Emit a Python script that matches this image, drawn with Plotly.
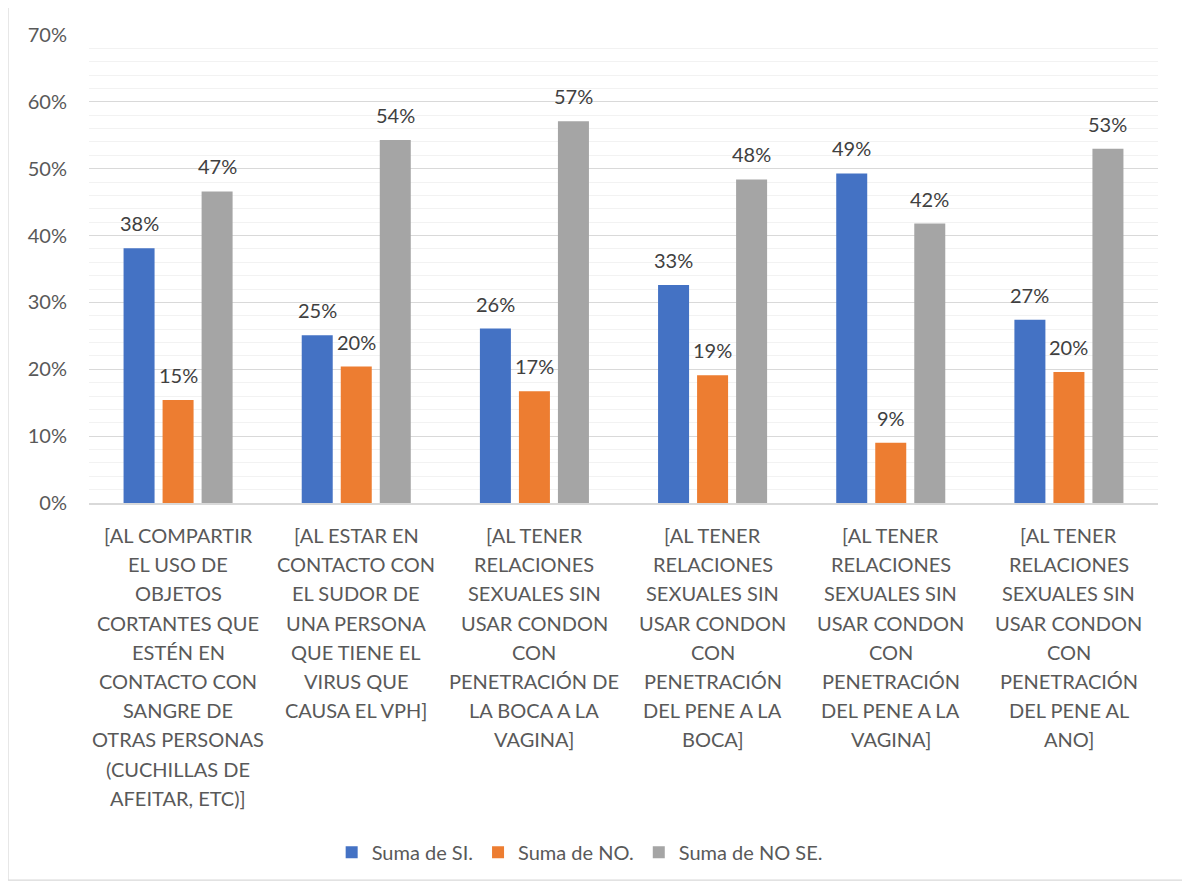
import plotly.graph_objects as go

# etiquetas de categoria (una lista de lineas por grupo)
cat_lines = [
    ["[AL COMPARTIR", "EL USO DE", "OBJETOS", "CORTANTES QUE", "ESTÉN EN",
     "CONTACTO CON", "SANGRE DE", "OTRAS PERSONAS", "(CUCHILLAS DE", "AFEITAR, ETC)]"],
    ["[AL ESTAR EN", "CONTACTO CON", "EL SUDOR DE", "UNA PERSONA",
     "QUE TIENE EL", "VIRUS QUE", "CAUSA EL VPH]"],
    ["[AL TENER", "RELACIONES", "SEXUALES SIN", "USAR CONDON", "CON",
     "PENETRACIÓN DE", "LA BOCA A LA", "VAGINA]"],
    ["[AL TENER", "RELACIONES", "SEXUALES SIN", "USAR CONDON", "CON",
     "PENETRACIÓN", "DEL PENE A LA", "BOCA]"],
    ["[AL TENER", "RELACIONES", "SEXUALES SIN", "USAR CONDON", "CON",
     "PENETRACIÓN", "DEL PENE A LA", "VAGINA]"],
    ["[AL TENER", "RELACIONES", "SEXUALES SIN", "USAR CONDON", "CON",
     "PENETRACIÓN", "DEL PENE AL", "ANO]"],
]
categories = [" ".join(l) for l in cat_lines]

si = [0.381, 0.251, 0.261, 0.326, 0.493, 0.274]
no = [0.154, 0.204, 0.167, 0.191, 0.090, 0.196]
no_se = [0.466, 0.543, 0.571, 0.484, 0.418, 0.530]

BAR_W = 0.174
series = [
    ("Suma de SI.", si, "#4472C4", -0.306),
    ("Suma de NO.", no, "#ED7D31", -0.087),
    ("Suma de NO SE.", no_se, "#A5A5A5", 0.132),
]

FONT = "Lato"
TXT = "#595959"
PLOT_W = 1069
CAT_PX = PLOT_W / len(categories)

fig = go.Figure()
annotations = []
for name, vals, color, off in series:
    fig.add_trace(go.Bar(
        x=categories, y=vals, name=name,
        marker=dict(color=color, line=dict(width=0)),
        width=BAR_W, offset=off,
    ))
    # etiquetas de datos, un poco separadas de la barra como en Excel
    for cat, v in zip(categories, vals):
        annotations.append(dict(
            x=cat, xref="x", y=v, yref="y",
            xshift=(off + BAR_W / 2) * CAT_PX, yshift=11, yanchor="bottom",
            text=f"{v:.0%}", showarrow=False,
            font=dict(family=FONT, size=20, color="#404040"),
        ))

# etiquetas del eje x, linea por linea (para imitar el interlineado)
for cat, lines in zip(categories, cat_lines):
    for i, line in enumerate(lines):
        annotations.append(dict(
            x=cat, xref="x", y=0, yref="paper",
            yshift=-(32 + i * 29.2), yanchor="middle",
            text=line, showarrow=False,
            font=dict(family=FONT, size=20, color=TXT),
        ))

# la pagina tiene 8px de margen en el body
fig.update_layout(
    width=1182, height=876,
    margin=dict(l=81, r=32, t=27, b=381),
    paper_bgcolor="white", plot_bgcolor="white",
    barmode="group",
    showlegend=True,
    legend=dict(orientation="h", x=0.459, xanchor="center", y=-0.746, yanchor="middle",
                font=dict(family=FONT, size=20, color=TXT), traceorder="normal",
                itemwidth=30),
    annotations=annotations,
    xaxis=dict(showticklabels=False, showgrid=False, showline=True,
               linecolor="#D9D9D9", linewidth=1.5, ticks=""),
    yaxis=dict(range=[0, 0.7], dtick=0.1, tickformat=".0%",
               showgrid=True, gridcolor="#D9D9D9", gridwidth=1.3,
               minor=dict(dtick=0.02, showgrid=True, gridcolor="#F2F2F2", gridwidth=1.3),
               zeroline=False, showline=False, ticklabelstandoff=21,
               tickfont=dict(family=FONT, size=20, color=TXT)),
    shapes=[dict(type="rect", xref="paper", yref="paper",
                 x0=-0.0758, x1=1.027, y0=-0.806, y1=1.064,
                 line=dict(color="#D9D9D9", width=1.3), fillcolor="rgba(0,0,0,0)",
                 layer="below")],
)

fig.write_html("out.html")
